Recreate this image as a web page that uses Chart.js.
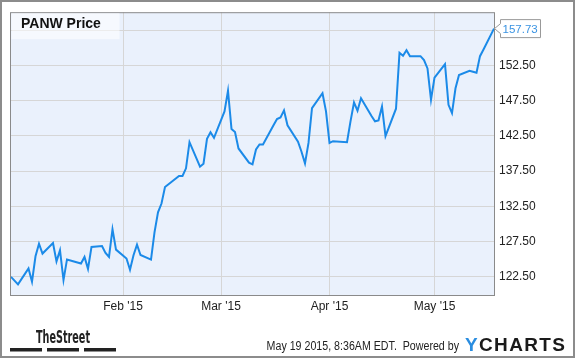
<!DOCTYPE html>
<html>
<head>
<meta charset="utf-8">
<title>PANW Price</title>
<script src="https://cdn.jsdelivr.net/npm/chart.js"></script>
<style>
  html, body { margin: 0; padding: 0; background: #fff; }
  canvas { display: block; }
</style>
</head>
<body>
<canvas id="chart" width="575" height="358"></canvas>
<script>
// trading days shown on the chart (Dec 31 2014 - May 18 2015)
const dates = [
  '2014-12-31', '2015-01-02', '2015-01-05', '2015-01-06', '2015-01-07', '2015-01-08', '2015-01-09',
  '2015-01-12', '2015-01-13', '2015-01-14', '2015-01-15', '2015-01-16',
  '2015-01-20', '2015-01-21', '2015-01-22', '2015-01-23',
  '2015-01-26', '2015-01-27', '2015-01-28', '2015-01-29', '2015-01-30',
  '2015-02-02', '2015-02-03', '2015-02-04', '2015-02-05', '2015-02-06',
  '2015-02-09', '2015-02-10', '2015-02-11', '2015-02-12', '2015-02-13',
  '2015-02-17', '2015-02-18', '2015-02-19', '2015-02-20',
  '2015-02-23', '2015-02-24', '2015-02-25', '2015-02-26', '2015-02-27',
  '2015-03-02', '2015-03-03', '2015-03-04', '2015-03-05', '2015-03-06',
  '2015-03-09', '2015-03-10', '2015-03-11', '2015-03-12', '2015-03-13',
  '2015-03-16', '2015-03-17', '2015-03-18', '2015-03-19', '2015-03-20',
  '2015-03-23', '2015-03-24', '2015-03-25', '2015-03-26', '2015-03-27',
  '2015-03-30', '2015-03-31', '2015-04-01', '2015-04-02',
  '2015-04-06', '2015-04-07', '2015-04-08', '2015-04-09', '2015-04-10',
  '2015-04-13', '2015-04-14', '2015-04-15', '2015-04-16', '2015-04-17',
  '2015-04-20', '2015-04-21', '2015-04-22', '2015-04-23', '2015-04-24',
  '2015-04-27', '2015-04-28', '2015-04-29', '2015-04-30', '2015-05-01',
  '2015-05-04', '2015-05-05', '2015-05-06', '2015-05-07', '2015-05-08',
  '2015-05-11', '2015-05-12', '2015-05-13', '2015-05-14', '2015-05-15',
  '2015-05-18'
];

const prices = [
  122.50, 121.43, 123.68, 121.80, 125.42, 127.20, 125.80,
  127.29, 124.70, 126.26, 122.04, 124.97,
  124.39, 125.32, 123.63, 126.75,
  126.87, 125.90, 125.32, 129.26, 126.36,
  125.09, 123.50, 125.56, 127.06, 125.60,
  124.95, 128.80, 131.65, 132.90, 135.25,
  136.82, 136.82, 137.90, 141.61,
  138.13, 138.56, 142.08, 143.02, 142.22,
  145.98, 148.90, 143.49, 143.06, 140.72,
  138.70, 138.47, 140.58, 141.29, 141.29,
  144.00, 144.90, 145.13, 146.12, 144.00,
  141.69, 140.25, 138.61, 141.51, 146.44,
  148.56, 145.99, 141.51, 141.75,
  141.61, 144.57, 147.25, 146.08, 147.85,
  145.32, 144.57, 144.71, 146.68, 142.46,
  146.36, 154.29, 153.87, 154.67, 153.82,
  153.82, 153.26, 152.08, 147.63, 150.77,
  152.70, 146.92, 145.74, 149.26, 151.15,
  151.75, 151.61, 151.47, 153.82, 154.77,
  157.73
];

const monthTicks = ['2015-02-01', '2015-03-01', '2015-04-01', '2015-05-01'];
const monthLabels = ["Feb '15", "Mar '15", "Apr '15", "May '15"];
const priceTicks = [122.5, 127.5, 132.5, 137.5, 142.5, 147.5, 152.5, 157.5];

const lineColor = '#1b8ae8';
const gridColor = '#d6d6d6';
const textColor = '#222';
const fontFamily = '"Liberation Sans", Arial, sans-serif';

// x axis is days since the first date, so weekends leave gaps like the original
const day0 = Date.UTC(2014, 11, 31);
function dayOf(s) {
  const p = s.split('-').map(Number);
  return (Date.UTC(p[0], p[1] - 1, p[2]) - day0) / 86400000;
}
const points = dates.map((d, i) => ({ x: dayOf(d), y: prices[i] }));
const lastPrice = prices[prices.length - 1];

const decorations = {
  id: 'decorations',
  beforeDraw(chart) {
    const { ctx, chartArea: a } = chart;
    ctx.save();
    ctx.fillStyle = '#fff';
    ctx.fillRect(0, 0, chart.width, chart.height);
    ctx.fillStyle = '#eaf1fc';
    ctx.fillRect(a.left, a.top, a.right - a.left, a.bottom - a.top);
    ctx.restore();
  },
  afterDraw(chart) {
    const { ctx, chartArea: a } = chart;
    const y = chart.scales.y;
    ctx.save();

    // plot frame
    ctx.strokeStyle = '#8a8a8a';
    ctx.lineWidth = 1;
    ctx.strokeRect(a.left - 0.5, a.top + 0.5, a.right - a.left + 1, a.bottom - a.top);

    // legend box
    ctx.fillStyle = 'rgba(255,255,255,0.55)';
    ctx.fillRect(a.left + 0.5, a.top + 1, 108, 26);
    ctx.fillStyle = '#111';
    ctx.font = 'bold 14px ' + fontFamily;
    ctx.textBaseline = 'alphabetic';
    ctx.fillText('PANW Price', 21, 28.3);

    // last value flag
    const py = y.getPixelForValue(lastPrice);
    const bx = 500.5, bw = 40, bh = 18;
    ctx.beginPath();
    ctx.moveTo(a.right + 0.5, py);
    ctx.lineTo(bx, py - 5);
    ctx.lineTo(bx, py - bh / 2);
    ctx.lineTo(bx + bw, py - bh / 2);
    ctx.lineTo(bx + bw, py + bh / 2);
    ctx.lineTo(bx, py + bh / 2);
    ctx.lineTo(bx, py + 5);
    ctx.closePath();
    ctx.fillStyle = '#fff';
    ctx.fill();
    ctx.strokeStyle = '#999';
    ctx.stroke();
    ctx.fillStyle = '#3a93e2';
    ctx.font = '11.5px ' + fontFamily;
    ctx.textBaseline = 'middle';
    ctx.fillText(lastPrice.toFixed(2), 502.5, py + 1);

    // footer: TheStreet
    ctx.textBaseline = 'alphabetic';
    ctx.fillStyle = '#222';
    ctx.font = 'bold 18px "Liberation Sans Narrow", "DejaVu Sans Condensed", sans-serif';
    const tw = ctx.measureText('TheStreet').width;
    ctx.save();
    ctx.translate(36, 342.5);
    ctx.scale(54 / tw, 1);
    ctx.fillText('TheStreet', 0, 0);
    ctx.restore();
    ctx.fillRect(10, 348, 32, 3.5);
    ctx.fillRect(47, 348, 32, 3.5);
    ctx.fillRect(84, 348, 32, 3.5);

    // footer: timestamp
    ctx.font = '12px ' + fontFamily;
    const stamp = 'May 19 2015, 8:36AM EDT.  Powered by';
    const sw = ctx.measureText(stamp).width;
    ctx.save();
    ctx.translate(266.6, 349.5);
    ctx.scale(192.4 / sw, 1);
    ctx.fillText(stamp, 0, 0);
    ctx.restore();

    // footer: YCHARTS
    ctx.font = 'bold 19px ' + fontFamily;
    const letters = 'YCHARTS'.split('');
    const widths = letters.map(c => ctx.measureText(c).width);
    const total = widths.reduce((s, w) => s + w, 0);
    const gap = (100 - total) / (letters.length - 1);
    let lx = 465;
    letters.forEach((c, i) => {
      ctx.fillStyle = i === 0 ? '#2a8de0' : '#1a1a1a';
      ctx.fillText(c, lx, 351);
      lx += widths[i] + gap;
    });

    // outer border
    ctx.strokeStyle = '#8c8c8c';
    ctx.lineWidth = 2;
    ctx.strokeRect(1, 1, chart.width - 2, chart.height - 2);
    ctx.restore();
  }
};

new Chart(document.getElementById('chart'), {
  type: 'line',
  data: {
    datasets: [{
      label: 'PANW Price',
      data: points,
      borderColor: lineColor,
      borderWidth: 2,
      pointRadius: 0,
      tension: 0,
      fill: false
    }]
  },
  options: {
    responsive: false,
    animation: false,
    devicePixelRatio: 1,
    layout: { padding: { left: 11, top: 10, right: 0, bottom: 0 } },
    plugins: {
      legend: { display: false },
      tooltip: { enabled: false }
    },
    scales: {
      x: {
        type: 'linear',
        min: 0,
        max: dayOf(dates[dates.length - 1]),
        afterBuildTicks: s => { s.ticks = monthTicks.map(d => ({ value: dayOf(d) })); },
        afterFit: s => { s.height = 63; },
        grid: { color: gridColor, drawTicks: false },
        border: { display: false },
        ticks: {
          autoSkip: false,
          maxRotation: 0,
          padding: 4,
          color: textColor,
          font: { family: fontFamily, size: 12 },
          callback: (v, i) => monthLabels[i]
        }
      },
      y: {
        position: 'right',
        min: 119.92,
        max: 160.06,
        afterBuildTicks: s => { s.ticks = priceTicks.map(v => ({ value: v })); },
        afterFit: s => { s.width = 81; },
        grid: { color: gridColor, drawTicks: false },
        border: { display: false },
        ticks: {
          padding: 5,
          color: textColor,
          font: { family: fontFamily, size: 12 },
          callback: v => (v === 157.5 ? '' : v.toFixed(2))
        }
      }
    }
  },
  plugins: [decorations]
});
</script>
</body>
</html>
